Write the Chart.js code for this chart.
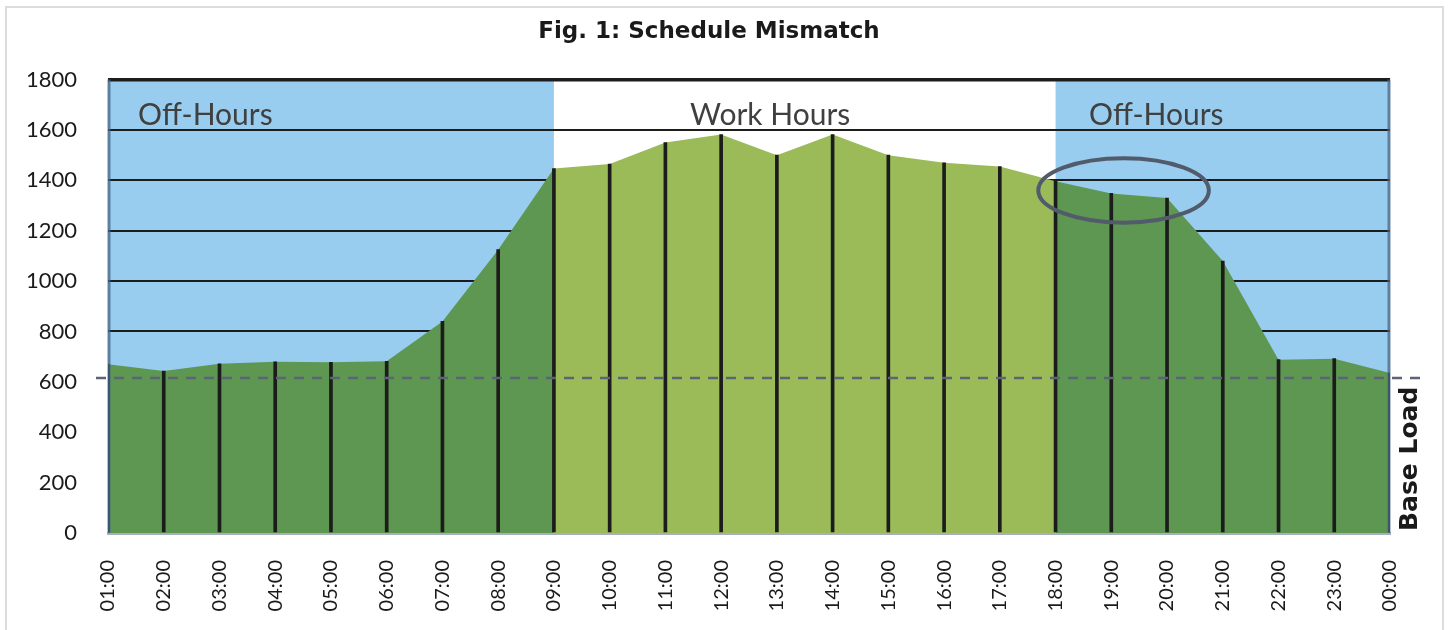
<!DOCTYPE html>
<html>
<head>
<meta charset="utf-8">
<title>Fig. 1: Schedule Mismatch</title>
<script src="https://cdn.jsdelivr.net/npm/chart.js@4"></script>
<style>
    html, body { margin: 0; padding: 0; background: #fff; }
    #wrap { position: relative; width: 1450px; height: 630px; overflow: hidden; }
    #frame { position: absolute; left: 5px; top: 6px; width: 1435px; height: 640px; border: 2px solid #dcdcdc; }
    #scheduleChart { position: absolute; left: 0; top: 0; }
</style>
</head>
<body>
<div id="wrap">
    <div id="frame"></div>
    <canvas id="scheduleChart" width="1450" height="630"></canvas>
</div>
<script>
const hours = ["01:00", "02:00", "03:00", "04:00", "05:00", "06:00", "07:00", "08:00",
    "09:00", "10:00", "11:00", "12:00", "13:00", "14:00", "15:00", "16:00", "17:00",
    "18:00", "19:00", "20:00", "21:00", "22:00", "23:00", "00:00"];
const load = [670, 643, 672, 680, 678, 682, 840, 1125, 1447, 1465, 1550, 1582, 1500, 1582,
    1500, 1470, 1455, 1396, 1348, 1330, 1080, 688, 692, 635];
const yTicks = [0, 200, 400, 600, 800, 1000, 1200, 1400, 1600, 1800];
const baseLoad = 615;
const workStart = 8;   // index of 09:00
const workEnd = 17;    // index of 18:00

// split the one load curve into the three shaded parts
const offMorning = load.map((v, i) => i <= workStart ? v : null);
const workDay = load.map((v, i) => i >= workStart && i <= workEnd ? v : null);
const offEvening = load.map((v, i) => i >= workEnd ? v : null);

const FONT = "Lato, 'Open Sans', sans-serif";
const BOLD_FONT = "'DejaVu Sans', sans-serif";
const BLUE = "#99cdef";
const DARK_GREEN = "#5e9751";
const LIGHT_GREEN = "#9bbb59";

const backdrop = {
    id: "backdrop",
    beforeDraw(chart) {
        const { ctx, chartArea: a, scales: { x } } = chart;
        ctx.save();
        ctx.fillStyle = BLUE;
        ctx.fillRect(a.left, a.top, x.getPixelForValue(workStart) - a.left, a.bottom - a.top);
        ctx.fillRect(x.getPixelForValue(workEnd), a.top, a.right - x.getPixelForValue(workEnd), a.bottom - a.top);
        ctx.restore();
    },
    afterDatasetsDraw(chart) {
        const { ctx, chartArea: a, scales: { x, y } } = chart;
        ctx.save();
        // plot side edges
        ctx.strokeStyle = "rgba(70,100,135,0.75)";
        ctx.lineWidth = 3;
        ctx.beginPath();
        ctx.moveTo(a.left + 1, a.top);
        ctx.lineTo(a.left + 1, a.bottom);
        ctx.moveTo(a.right - 1, a.top);
        ctx.lineTo(a.right - 1, a.bottom);
        ctx.stroke();

        // base load line
        const by = y.getPixelForValue(baseLoad);
        ctx.strokeStyle = "#5b6475";
        ctx.lineWidth = 2.5;
        ctx.setLineDash([10, 8]);
        ctx.beginPath();
        ctx.moveTo(a.left - 12, by);
        ctx.lineTo(a.right + 36, by);
        ctx.stroke();
        ctx.setLineDash([]);

        // ellipse around the evening hours
        const cx = x.getPixelForValue(18.22);
        const cy = y.getPixelForValue(1360);
        const rx = x.getPixelForValue(1.53) - x.getPixelForValue(0);
        const ry = y.getPixelForValue(0) - y.getPixelForValue(128);
        ctx.strokeStyle = "#525b6b";
        ctx.lineWidth = 4;
        ctx.beginPath();
        ctx.ellipse(cx, cy, rx, ry, 0, 0, Math.PI * 2);
        ctx.stroke();

        // region labels
        ctx.fillStyle = "#404040";
        ctx.font = "30px " + FONT;
        ctx.textBaseline = "alphabetic";
        const ty = y.getPixelForValue(1618);
        ctx.textAlign = "left";
        ctx.fillText("Off-Hours", x.getPixelForValue(0.54), ty);
        ctx.fillText("Off-Hours", x.getPixelForValue(17.6), ty);
        ctx.textAlign = "center";
        ctx.fillText("Work Hours", x.getPixelForValue(11.88), ty);

        // base load caption
        ctx.fillStyle = "#1a1a1a";
        ctx.font = "bold 25px " + BOLD_FONT;
        ctx.translate(a.right + 20, a.bottom - 2);
        ctx.rotate(-Math.PI / 2);
        ctx.textAlign = "left";
        ctx.textBaseline = "middle";
        ctx.fillText("Base Load", 0, 0);
        ctx.restore();
    }
};

new Chart(document.getElementById("scheduleChart"), {
    type: "line",
    data: {
        labels: hours,
        datasets: [
            { type: "bar", data: load, backgroundColor: "#1c1c1c", barThickness: 3, order: 0 },
            { data: offMorning, backgroundColor: DARK_GREEN, borderWidth: 0, pointRadius: 0, fill: "origin", order: 1 },
            { data: workDay, backgroundColor: LIGHT_GREEN, borderWidth: 0, pointRadius: 0, fill: "origin", order: 1 },
            { data: offEvening, backgroundColor: DARK_GREEN, borderWidth: 0, pointRadius: 0, fill: "origin", order: 1 }
        ]
    },
    options: {
        responsive: false,
        animation: false,
        layout: { padding: { left: 28, right: 60, top: 0, bottom: 0 } },
        plugins: {
            legend: { display: false },
            tooltip: { enabled: false },
            title: {
                display: true,
                text: "Fig. 1: Schedule Mismatch",
                color: "#1a1a1a",
                font: { family: BOLD_FONT, size: 23, weight: "bold" },
                padding: { top: 18, bottom: 34 }
            }
        },
        scales: {
            x: {
                offset: false,
                grid: { display: false, drawTicks: false },
                border: { color: "#a6aec0", width: 3 },
                ticks: {
                    color: "#1a1a1a",
                    font: { family: FONT, size: 20 },
                    minRotation: 90,
                    maxRotation: 90,
                    padding: 27,
                    autoSkip: false
                },
                afterFit: axis => { axis.height = 97; }
            },
            y: {
                min: 0,
                max: 1800,
                afterBuildTicks: axis => { axis.ticks = yTicks.map(v => ({ value: v })); },
                afterFit: axis => { axis.width = 80; },
                grid: {
                    color: "#1c1c1c",
                    lineWidth: c => c.tick && c.tick.value === 1800 ? 3.5 : 2,
                    drawTicks: false
                },
                border: { display: false },
                ticks: {
                    color: "#1a1a1a",
                    font: { family: FONT, size: 22 },
                    padding: 31,
                    callback: v => String(v)
                }
            }
        }
    },
    plugins: [backdrop]
});
</script>
</body>
</html>
